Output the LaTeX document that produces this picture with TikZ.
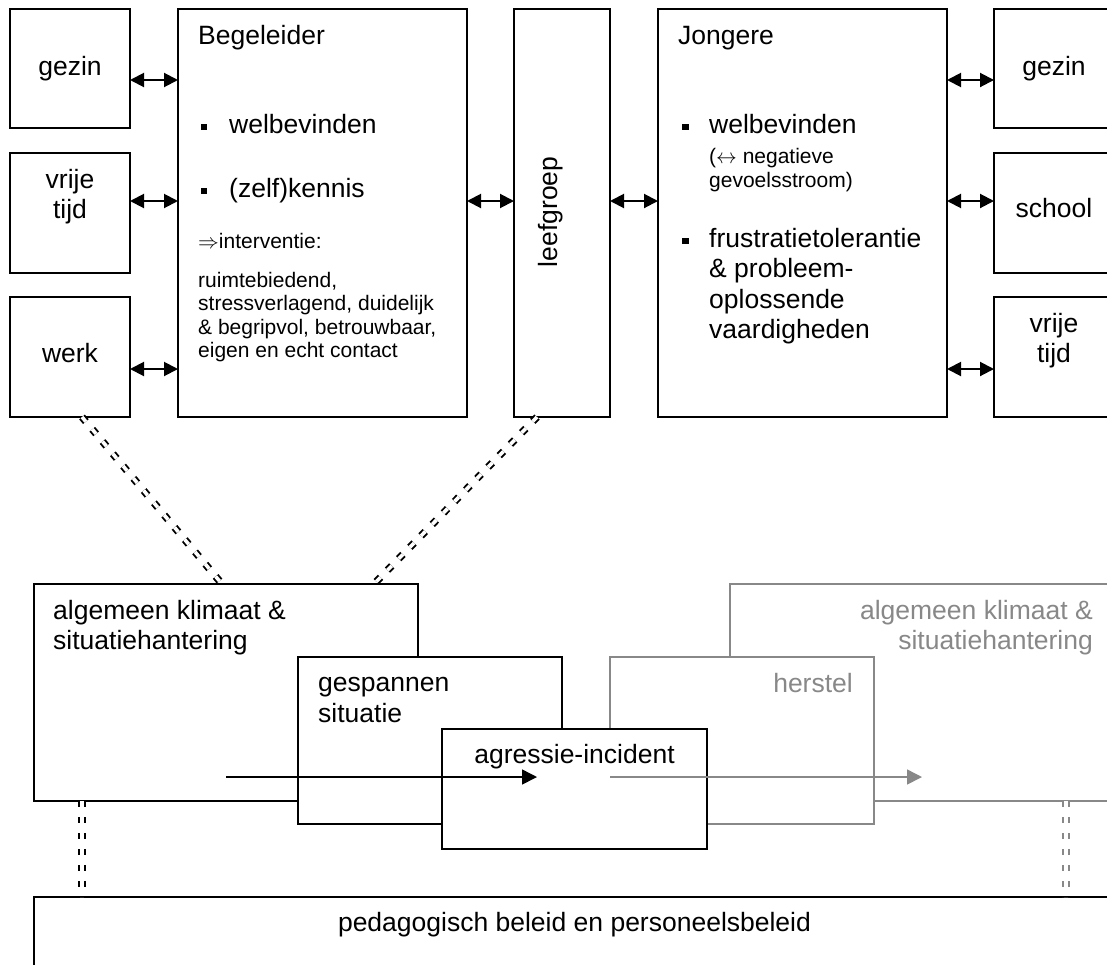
\documentclass[tikz,border=0pt]{standalone}
\usepackage{fontspec}
\setmainfont{Liberation Sans}
\usetikzlibrary{arrows.meta}

\definecolor{lightink}{RGB}{136,136,136}

\begin{document}
\begin{tikzpicture}[x=1pt,y=-1pt,
  box/.style={draw, line width=1.8pt, fill=white, rectangle, inner sep=0pt, outer sep=0pt, anchor=north west},
  greybox/.style={box, draw=lightink, line width=1.4pt},
  sq/.style={fill, rectangle, minimum size=6.5pt, inner sep=0pt},
  big/.style={inner sep=0pt, font=\fontsize{26.5}{30.5}\selectfont},
  small/.style={inner sep=0pt, font=\fontsize{21}{23.5}\selectfont},
  link/.style={line width=2pt, {Triangle[length=14pt,width=14pt]}-{Triangle[length=14pt,width=14pt]}},
  flow/.style={line width=1.5pt, -{Triangle[length=15pt,width=15pt]}},
  tie/.style={line width=1.9pt, double=white, double distance=3.6pt, dash pattern=on 6pt off 10pt},
]
\useasboundingbox (0,0) rectangle (1107,964);
\fill[white] (0,0) rectangle (1107,964);
\clip (0,0) rectangle (1107,964);

% ---- upper row: surroundings, Begeleider, leefgroep, Jongere ----
\node[box, minimum width=120pt, minimum height=119pt] (gezinL) at (10,9) {};
\node[box, minimum width=120pt, minimum height=120pt] (vrijL) at (10,153) {};
\node[box, minimum width=120pt, minimum height=120pt] (werkL) at (10,297) {};
\node[box, minimum width=289pt, minimum height=408pt] (beg) at (178,9) {};
\node[box, minimum width=96pt, minimum height=408pt] (leef) at (514,9) {};
\node[box, minimum width=289pt, minimum height=408pt] (jong) at (658,9) {};
\node[box, minimum width=120pt, minimum height=119pt] (gezinR) at (994,9) {};
\node[box, minimum width=120pt, minimum height=120pt] (schoolR) at (994,153) {};
\node[box, minimum width=120pt, minimum height=120pt] (vrijR) at (994,297) {};

% multi-line nodes: the base anchor sits on the last line
\node[big, anchor=base] (tGezinL) at (70,75) {gezin};
\node[big, anchor=base, align=center] (tVrijL) at (70,218.5) {vrije\\tijd};
\node[big, anchor=base] (tWerkL) at (70,362) {werk};

\node[big, anchor=base west] (tBeg) at (198,44) {Begeleider};
\node[sq] (bB1) at (204.2,127.2) {};
\node[big, anchor=base west] (tBeg1) at (229,133) {welbevinden};
\node[sq] (bB2) at (204.2,191.2) {};
\node[big, anchor=base west] (tBeg2) at (229,197) {(zelf)kennis};
\node[small, anchor=base west] (tBeg3) at (198,248) {$\Rightarrow$interventie:};
\node[small, anchor=base west, align=left] (tBeg4) at (198,357.5)
  {ruimtebiedend,\\stressverlagend, duidelijk\\\& begripvol, betrouwbaar,\\eigen en echt contact};

\node[big, rotate=90, anchor=base] (tLeef) at (557,212) {leefgroep};

\node[big, anchor=base west] (tJong) at (678,44) {Jongere};
\node[sq] (bJ1) at (685.5,127.2) {};
\node[big, anchor=base west] (tJong1) at (709,133) {welbevinden};
\node[small, anchor=base west, align=left] (tJong2) at (709,187) {($\leftrightarrow$ negatieve\\gevoelsstroom)};
\node[sq] (bJ2) at (685.5,241.2) {};
\node[big, anchor=base west, align=left] (tJong3) at (709,338.5)
  {frustratietolerantie\\\& probleem-\\oplossende\\vaardigheden};

\node[big, anchor=base] (tGezinR) at (1054,75) {gezin};
\node[big, anchor=base] (tSchool) at (1054,217) {school};
\node[big, anchor=base, align=center] (tVrijR) at (1054,362.5) {vrije\\tijd};

% ---- two-way links ----
\coordinate (r1) at (0,80);
\coordinate (r2) at (0,201);
\coordinate (r3) at (0,369);
\draw[link] (gezinL.east |- r1) -- (beg.west |- r1);
\draw[link] (vrijL.east |- r2) -- (beg.west |- r2);
\draw[link] (werkL.east |- r3) -- (beg.west |- r3);
\draw[link] (beg.east |- r2) -- (leef.west |- r2);
\draw[link] (leef.east |- r2) -- (jong.west |- r2);
\draw[link] (jong.east |- r1) -- (gezinR.west |- r1);
\draw[link] (jong.east |- r2) -- (schoolR.west |- r2);
\draw[link] (jong.east |- r3) -- (vrijR.west |- r3);

% ---- lower part: phases of an incident ----
\node[greybox, minimum width=384pt, minimum height=217pt] (galg) at (730,584) {};
\node[greybox, minimum width=264pt, minimum height=167pt] (herst) at (610,657) {};
\node[box, minimum width=384pt, minimum height=217pt] (alg) at (34,584) {};
\node[box, minimum width=264pt, minimum height=167pt] (gesp) at (298,657) {};
\node[box, minimum width=265pt, minimum height=120pt] (agr) at (442,729) {};
\node[box, minimum width=1100pt, minimum height=100pt] (beleid) at (34,897) {};

\node[big, anchor=base west, align=left] (tAlg) at (53,649.5) {algemeen klimaat \&\\situatiehantering};
\node[big, anchor=base west, align=left] (tGesp) at (318,722) {gespannen\\situatie};
\node[big, anchor=base] (tAgr) at (574.5,763) {agressie-incident};
\node[big, anchor=base east, align=right, text=lightink] (tGalg) at (1093,649.5) {algemeen klimaat \&\\situatiehantering};
\node[big, anchor=base east, text=lightink] (tHerst) at (853,692) {herstel};
\node[big, anchor=base] (tBeleid) at (574.5,931) {pedagogisch beleid en personeelsbeleid};

% ---- time arrows ----
\coordinate (f1) at (226,777);
\coordinate (f2) at (537,777);
\coordinate (g1) at (610,777);
\coordinate (g2) at (922,777);
\draw[flow] (f1) -- (f2);
\draw[flow, draw=lightink] (g1) -- (g2);

% ---- double dashed ties ----
\coordinate (c1) at (82,0);
\coordinate (c2) at (222,0);
\coordinate (c3) at (537,0);
\coordinate (c4) at (374,0);
\coordinate (c5) at (1066,0);
\draw[tie] (werkL.south -| c1) -- (alg.north -| c2);
\draw[tie] (leef.south -| c3) -- (alg.north -| c4);
\draw[tie] (alg.south -| c1) -- (beleid.north -| c1);
\draw[tie, draw=lightink] (galg.south -| c5) -- (beleid.north -| c5);
\end{tikzpicture}
\end{document}
